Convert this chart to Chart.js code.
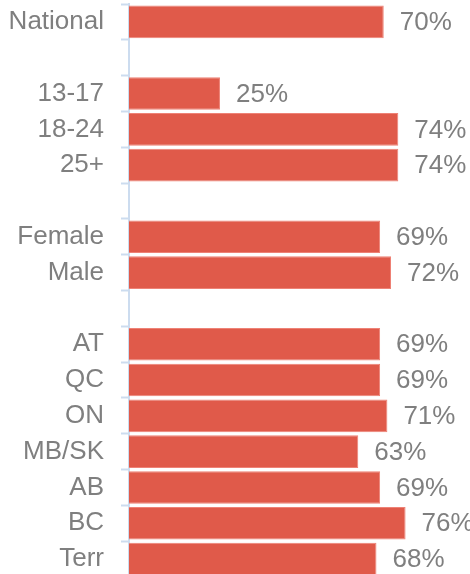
<!DOCTYPE html>
<html>
<head>
<meta charset="utf-8">
<script src="https://cdn.jsdelivr.net/npm/chart.js@4"></script>
<style>
    html, body { margin: 0; padding: 0; background: #fff; overflow: hidden; }
    #wrap { width: 470px; height: 578px; position: relative; }
</style>
</head>
<body>
<div id="wrap"><canvas id="chart"></canvas></div>
<script>
// Data
const CATEGORIES = ['National', '', '13-17', '18-24', '25+', '', 'Female', 'Male', '',
    'AT', 'QC', 'ON', 'MB/SK', 'AB', 'BC', 'Terr'];
const VALUES = [70, null, 25, 74, 74, null, 69, 72, null, 69, 69, 71, 63, 69, 76, 68];

// Colors
const BAR_COLOR = '#E05A4A';
const BAR_EDGE = '#EE8276';
const TEXT_COLOR = '#7F7F7F';
const AXIS_COLOR = '#CCDCEF';
const FONT = { family: '"Liberation Sans", Arial, sans-serif', size: 26 };

// Draw percentage labels to the right of each bar
const valueLabels = {
    id: 'valueLabels',
    afterDatasetsDraw(chart) {
        const ctx = chart.ctx;
        const meta = chart.getDatasetMeta(0);
        ctx.save();
        ctx.font = `${FONT.size}px ${FONT.family}`;
        ctx.fillStyle = TEXT_COLOR;
        ctx.textAlign = 'left';
        ctx.textBaseline = 'middle';
        meta.data.forEach((bar, i) => {
            if (VALUES[i] == null) return;
            ctx.fillText(VALUES[i] + '%', bar.x + 16, bar.y + 1);
        });
        ctx.restore();
    }
};

new Chart(document.getElementById('chart'), {
    type: 'bar',
    data: {
        labels: CATEGORIES,
        datasets: [{
            data: VALUES,
            backgroundColor: BAR_COLOR,
            borderColor: BAR_EDGE,
            borderWidth: 1,
            barPercentage: 0.91,
            categoryPercentage: 1
        }]
    },
    options: {
        indexAxis: 'y',
        responsive: true,
        maintainAspectRatio: false,
        animation: false,
        layout: { padding: { top: 4, bottom: 1, left: 0, right: 0 } },
        plugins: {
            legend: { display: false },
            tooltip: { enabled: false }
        },
        scales: {
            x: {
                display: false,
                min: 0,
                max: 93.7
            },
            y: {
                afterFit: (scale) => {
                    scale.width = 129;
                    scale.paddingTop = 0;
                    scale.paddingBottom = 0;
                },
                border: { display: true, color: AXIS_COLOR, width: 2 },
                grid: {
                    offset: true,
                    drawOnChartArea: false,
                    drawTicks: true,
                    tickLength: 8,
                    tickWidth: 2,
                    color: AXIS_COLOR
                },
                ticks: {
                    padding: 17,
                    color: TEXT_COLOR,
                    font: FONT,
                    autoSkip: false
                }
            }
        }
    },
    plugins: [valueLabels]
});
</script>
</body>
</html>
